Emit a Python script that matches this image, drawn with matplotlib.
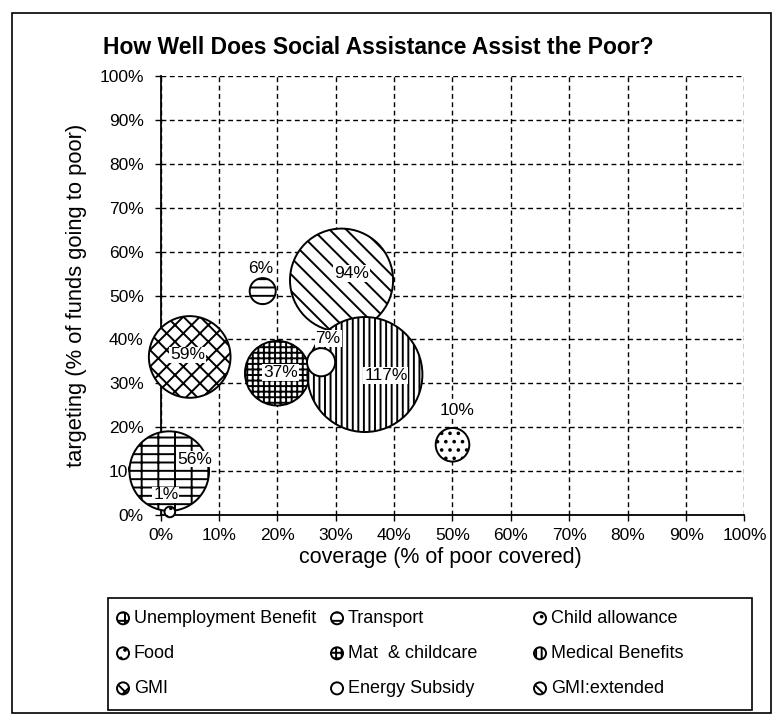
import matplotlib.pyplot as plt
from matplotlib.patches import Rectangle
from matplotlib.ticker import PercentFormatter

plt.rcParams['font.family'] = ['Liberation Sans', 'DejaVu Sans']
plt.rcParams['hatch.linewidth'] = 1.4

# data
programs = ['Unemployment Benefit', 'Transport', 'Child allowance',
            'Food', 'Mat  & childcare', 'Medical Benefits',
            'GMI', 'Energy Subsidy', 'GMI:extended']
coverage = [1.5, 17.5, 50, 1.6, 20, 35, 5, 27.5, 31]          # % of poor covered
targeting = [10, 51, 16, 0.7, 32.3, 32, 36, 34.8, 53.5]       # % of funds going to poor
spending = [56, 6, 10, 1, 37, 117, 59, 7, 94]                 # bubble size / label

# look
hatches = ['--|', '--', '..', '..', '+++', '|||', 'xx', '', '\\\\']
layer = [3, 3, 3, 3, 3, 3, 3, 4, 2]
label_off = [(25, 12), (-2, 23), (5, 34), (-4, 17), (3, 1),
             (21, -1), (-2, 2), (7, 24), (10, 7)]   # pixels from bubble centre
BUBBLE = (115 * 0.72) ** 2 / 117    # 117% bubble ~115px across

W, H = 776, 715
fig = plt.figure(figsize=(W / 100, H / 100), dpi=100)
ax = fig.add_axes([160.5 / W, 1 - 515 / H, 584 / W, 439 / H])

handles = []
for i in range(len(programs)):
    sc = ax.scatter(coverage[i], targeting[i], s=spending[i] * BUBBLE,
                    facecolor='white', edgecolor='black', linewidth=1.4,
                    hatch=hatches[i], zorder=layer[i], clip_on=False,
                    label=programs[i])
    handles.append(sc)
    dx, dy = label_off[i]
    ax.annotate('%d%%' % spending[i], (coverage[i], targeting[i]),
                xytext=(dx * 0.72, dy * 0.72), textcoords='offset points',
                ha='center', va='center', fontsize=12.5, zorder=10,
                bbox=dict(boxstyle='square,pad=0.05', fc='white', ec='none'))

ax.set_xlim(0, 100)
ax.set_ylim(0, 100)
ax.set_xticks(range(0, 101, 10))
ax.set_yticks(range(0, 101, 10))
ax.xaxis.set_major_formatter(PercentFormatter(100, decimals=0))
ax.yaxis.set_major_formatter(PercentFormatter(100, decimals=0))
ax.tick_params(labelsize=12.5, direction='out', length=4, width=1)
ax.tick_params(axis='x', pad=5)
ax.tick_params(axis='y', pad=8)
ax.set_axisbelow(True)
ax.grid(True, color='black', linestyle=(0, (3.5, 2.5)), linewidth=1)
for side in ['top', 'right']:
    ax.spines[side].set_visible(False)
for side in ['left', 'bottom']:
    ax.spines[side].set_linewidth(1.3)

ax.set_xlabel('coverage (% of poor covered)', fontsize=15.5)
ax.xaxis.set_label_coords(0.48, -0.073)
ax.set_ylabel('targeting (% of funds going to poor)', fontsize=15.8)
ax.yaxis.set_label_coords(-0.126, 0.5)

fig.text(103 / W, 1 - 47 / H, 'How Well Does Social Assistance Assist the Poor?',
         fontsize=16.5, fontweight='bold', ha='left', va='center')

# legend: three columns laid out like the Excel legend
for c, x0 in enumerate([114, 328, 531]):
    idx = [c, c + 3, c + 6]
    leg = fig.legend([handles[k] for k in idx], [programs[k] for k in idx],
                     loc='upper left', bbox_to_anchor=(x0 / W, 1 - 610 / H),
                     frameon=False, fontsize=13, borderpad=0, borderaxespad=0,
                     handlelength=1.0, handletextpad=0.1, labelspacing=1.0,
                     scatterpoints=1)
    for h in leg.legend_handles:
        h.set_sizes([75])

fig.add_artist(Rectangle((108 / W, 1 - 710 / H), 644 / W, 112 / H,
                         transform=fig.transFigure, fill=False, lw=1.2, ec='black'))
fig.add_artist(Rectangle((11.7 / W, 1 - 713 / H), 759 / W, 700 / H,
                         transform=fig.transFigure, fill=False, lw=1.2, ec='black'))

fig.savefig('out.png', dpi=100)
